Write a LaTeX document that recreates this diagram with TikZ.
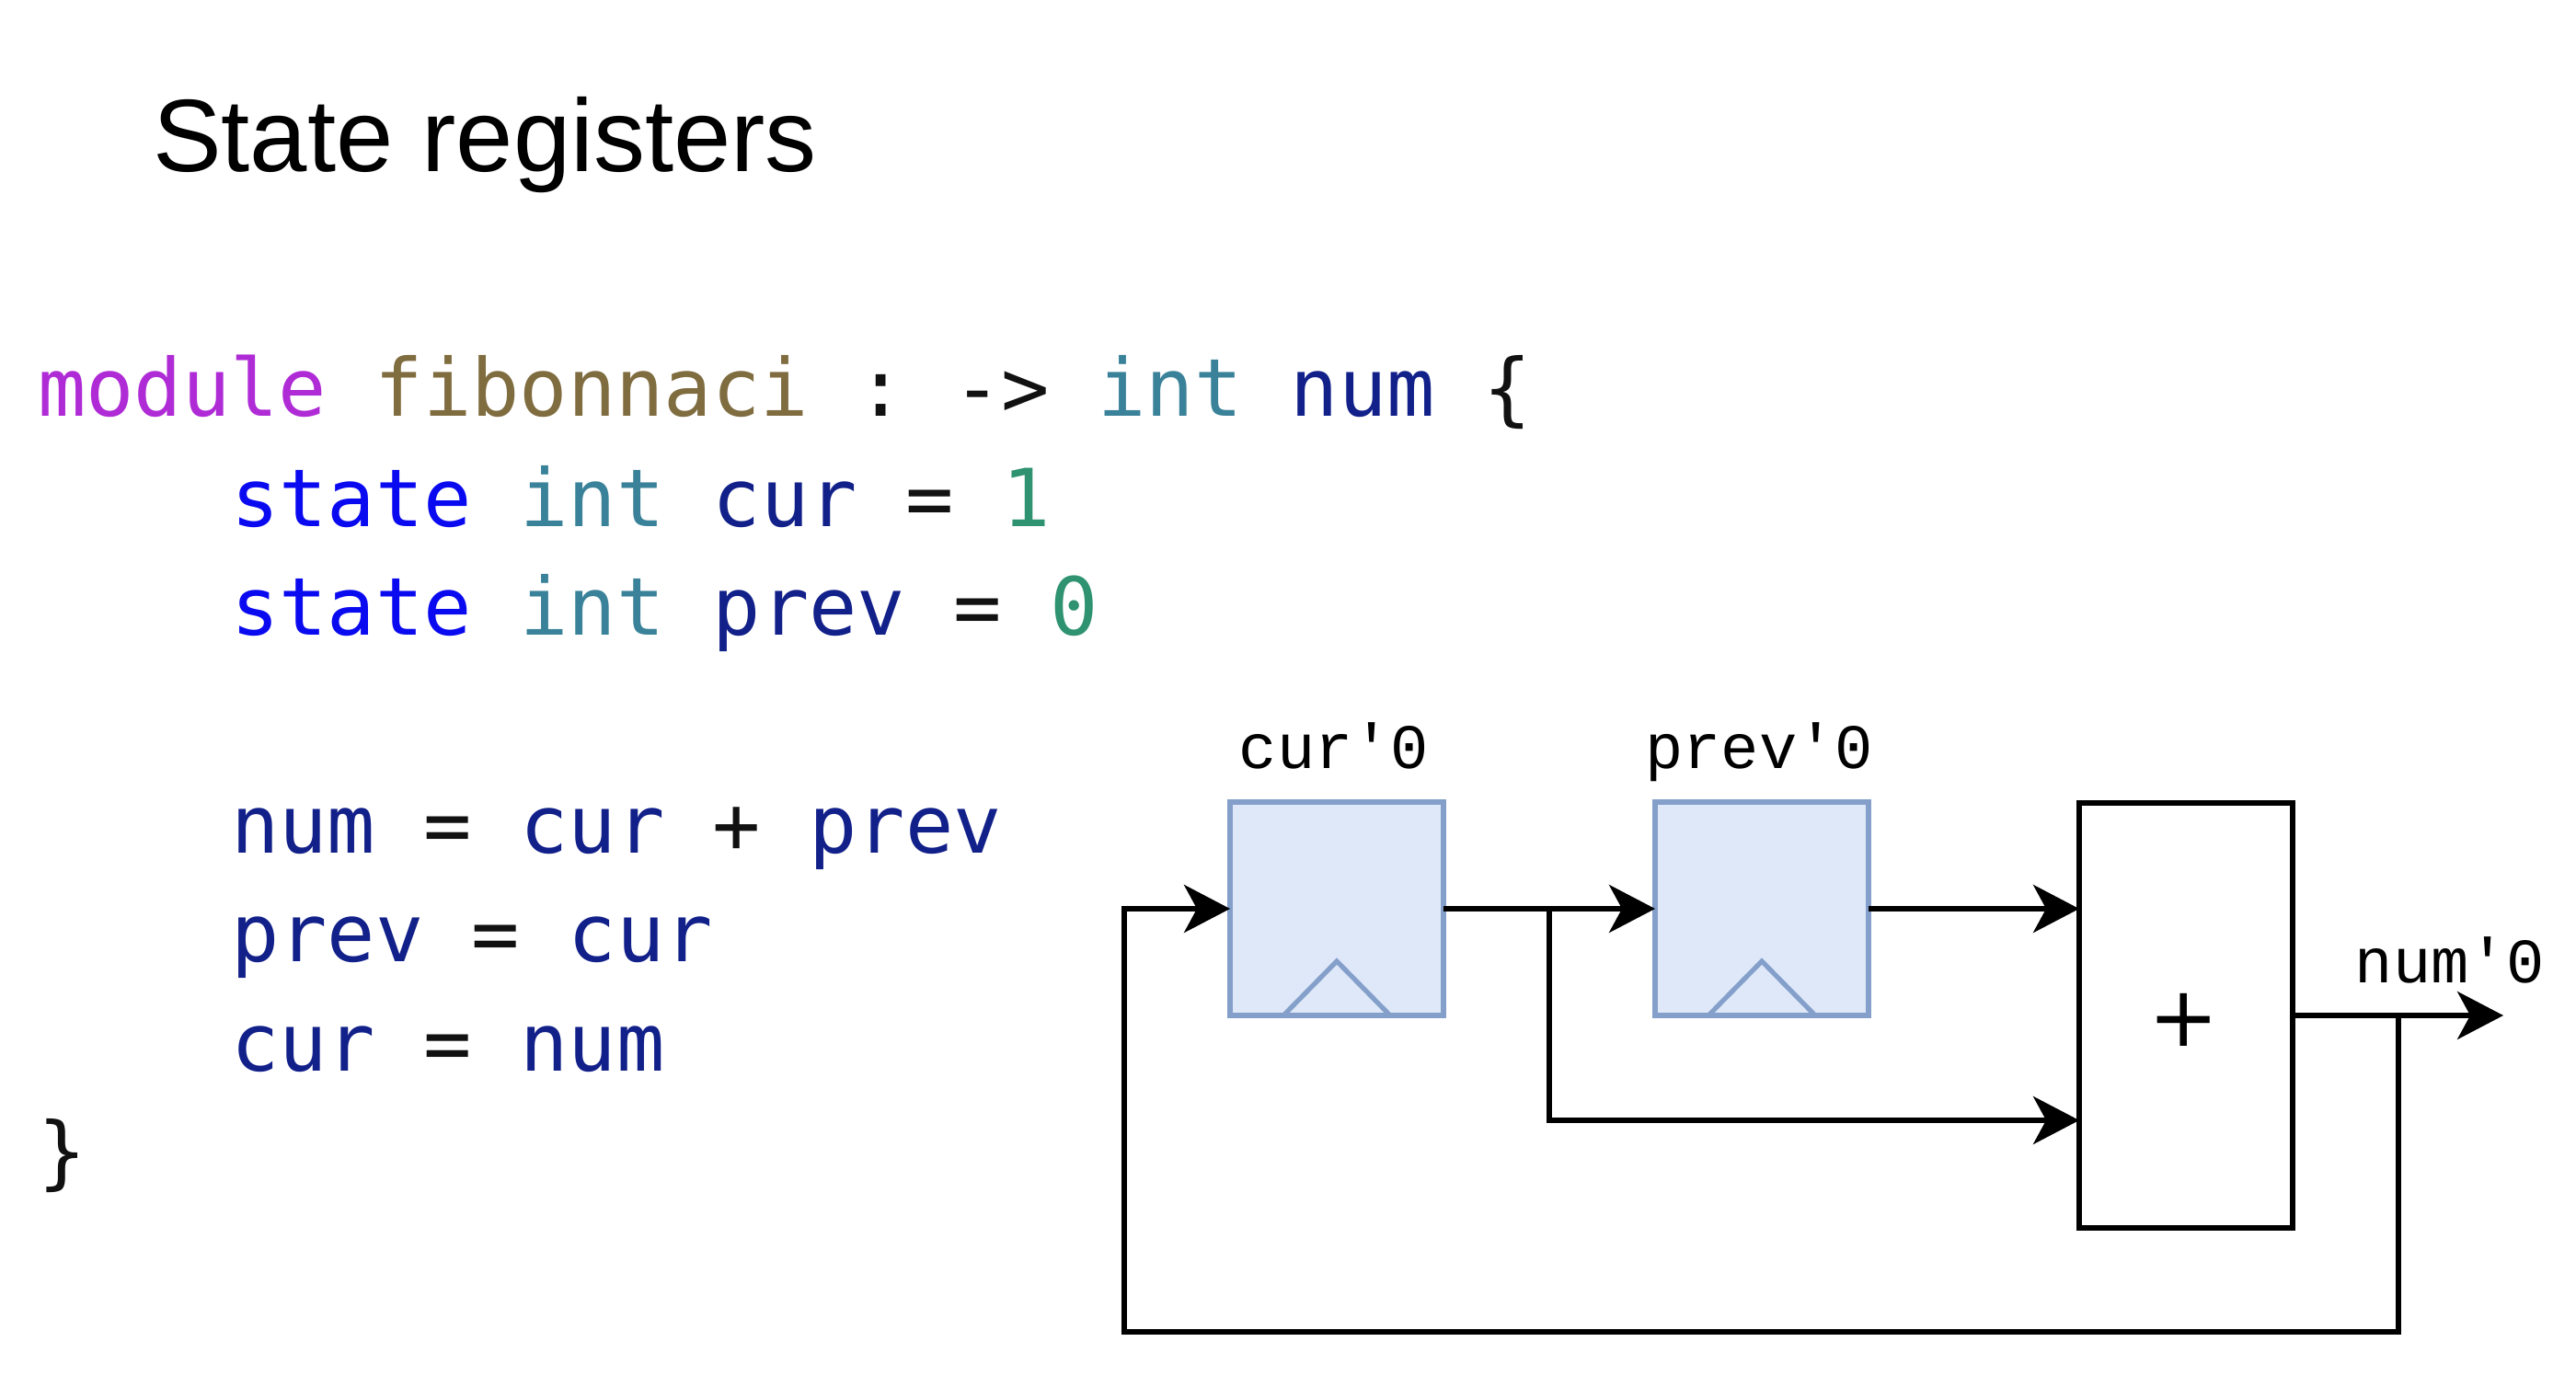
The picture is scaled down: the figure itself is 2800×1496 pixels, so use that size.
\documentclass[tikz,border=0pt]{standalone}
\usepackage{fontspec}
\usetikzlibrary{arrows.meta,calc}
\setmainfont{Liberation Sans}
\newfontfamily\codefont{DejaVu Sans Mono}
\newfontfamily\labelfont{Liberation Mono}
\newfontfamily\plusfont{DejaVu Sans}
\frenchspacing
\definecolor{kwmod}{HTML}{AF2BD6}
\definecolor{fnname}{HTML}{7F6C3F}
\definecolor{kwstate}{HTML}{0A0AF0}
\definecolor{typ}{HTML}{3A8299}
\definecolor{var}{HTML}{12208A}
\definecolor{numc}{HTML}{2F9270}
\definecolor{punct}{HTML}{111111}
\definecolor{regfill}{HTML}{DEE8F8}
\definecolor{regline}{HTML}{84A0CA}
\newcommand{\Mo}[1]{\textcolor{kwmod}{#1}}
\newcommand{\Fn}[1]{\textcolor{fnname}{#1}}
\newcommand{\St}[1]{\textcolor{kwstate}{#1}}
\newcommand{\Ty}[1]{\textcolor{typ}{#1}}
\newcommand{\Va}[1]{\textcolor{var}{#1}}
\newcommand{\Nu}[1]{\textcolor{numc}{#1}}
\tikzset{
  codeline/.style={anchor=base west,inner sep=0pt,outer sep=0pt,text=punct,font=\codefont\fontsize{21.75}{26}\selectfont},
  title/.style={anchor=base west,inner sep=0pt,outer sep=0pt,font=\fontsize{28}{34}\selectfont},
  reglabel/.style={anchor=base,inner sep=0pt,outer sep=0pt,font=\labelfont\fontsize{17.2}{20}\selectfont},
  reg/.style={draw=regline,fill=regfill,line width=1.3pt,minimum width=58pt,minimum height=58pt,inner sep=0pt,outer sep=0pt},
  clk/.style={draw=regline,line width=1.3pt},
  adder/.style={draw=black,line width=1.35pt,minimum width=58pt,minimum height=115.5pt,inner sep=0pt,outer sep=0pt},
  plussign/.style={inner sep=0pt,outer sep=0pt,font=\plusfont\fontsize{22.8}{26}\selectfont},
  wire/.style={draw=black,line width=1.35pt},
  arrowwire/.style={wire,-{Stealth[length=12.5pt,width=13pt,inset=3.5pt]}},
}
\begin{document}
\begin{tikzpicture}[x=0.25pt,y=-0.25pt]
\useasboundingbox (0,0) rectangle (2800,1496);
\fill[white] (0,0) rectangle (2800,1496);
\node[title] (ttl) at (166,187) {State registers};
\node[codeline] (l1) at (41,453) {\Mo{module} \Fn{fibonnaci} : -> \Ty{int} \Va{num} \{};
\node[codeline] (l2) at (251,572) {\St{state} \Ty{int} \Va{cur} = \Nu{1}};
\node[codeline] (l3) at (251,690) {\St{state} \Ty{int} \Va{prev} = \Nu{0}};
\node[codeline] (l4) at (251,927) {\Va{num} = \Va{cur} + \Va{prev}};
\node[codeline] (l5) at (251,1045) {\Va{prev} = \Va{cur}};
\node[codeline] (l6) at (251,1164) {\Va{cur} = \Va{num}};
\node[codeline] (l7) at (41,1282) {\}};

\node[reg] (curreg) at (1453,988) {};
\node[reg] (prevreg) at (1915,988) {};
\node[adder] (adder) at (2376,1104) {};
\node[plussign] (plus) at (2374,1109) {+};
\node[reglabel] (curlab) at (1450,835) {cur'0};
\node[reglabel] (prevlab) at (1912,835) {prev'0};
\node[reglabel] (numlab) at (2663,1068) {num'0};

\draw[clk] ($(curreg.south)+(-58,0)$) -- ($(curreg.south)+(0,-59)$) -- ($(curreg.south)+(58,0)$);
\draw[clk] ($(prevreg.south)+(-58,0)$) -- ($(prevreg.south)+(0,-59)$) -- ($(prevreg.south)+(58,0)$);

\coordinate (split) at (1684,988);
\coordinate (lowin) at (adder.west |- 0,1218);
\coordinate (highin) at (adder.west |- prevreg.east);
\coordinate (outsplit) at (2607,1104);
\coordinate (outend) at (2721,1104);
\coordinate (fbr) at (2607,1448);
\coordinate (fbl) at (1222,1448);
\coordinate (fbt) at (1222,988);

\draw[arrowwire] (curreg.east) -- (prevreg.west);
\draw[arrowwire] (prevreg.east) -- (highin);
\draw[arrowwire] (split) |- (lowin);
\draw[arrowwire] (adder.east) -- (outend);
\draw[arrowwire] (outsplit) -- (fbr) -- (fbl) -- (fbt) -- (curreg.west);
\end{tikzpicture}
\end{document}
